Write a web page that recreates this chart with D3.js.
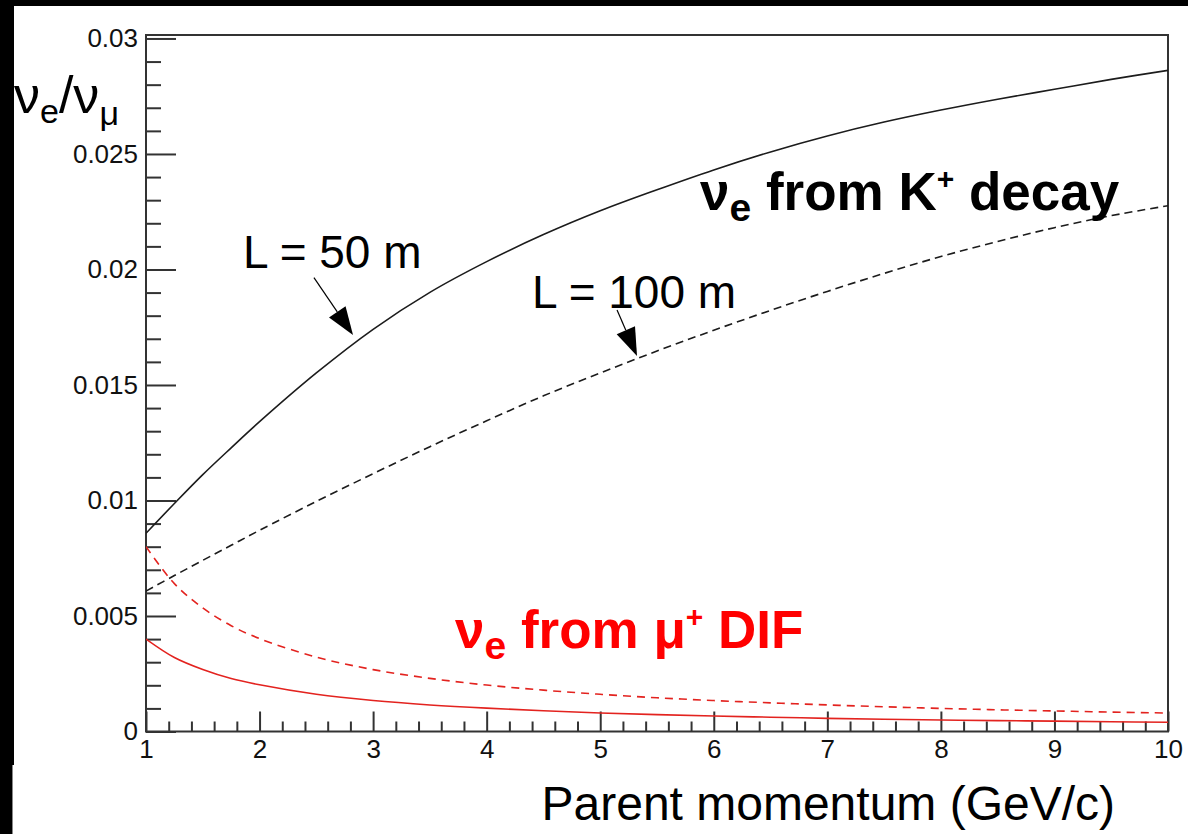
<!DOCTYPE html>
<html>
<head>
<meta charset="utf-8">
<script src="https://cdn.jsdelivr.net/npm/d3@7"></script>
<style>
  body { margin: 0; background: #fff; }
  svg { display: block; font-family: "Liberation Sans", Arial, Helvetica, sans-serif; }
</style>
</head>
<body>
<svg id="chart"></svg>
<script>
// parent momentum (GeV/c)
const momentum = [1, 1.25, 1.5, 1.75, 2, 2.5, 3, 3.5, 4, 4.5, 5, 5.5, 6, 6.5, 7, 7.5, 8, 8.5, 9, 9.5, 10];
// nu_e / nu_mu from K+ decay
const kaonL50  = [0.00858, 0.00987, 0.01112, 0.01228, 0.01341, 0.01552, 0.01741, 0.01901, 0.02034, 0.02151, 0.02254,
                  0.02345, 0.02431, 0.02509, 0.02578, 0.02638, 0.02690, 0.02737, 0.02780, 0.02823, 0.02862];
const kaonL100 = [0.00608, 0.00675, 0.00741, 0.00806, 0.00871, 0.00996, 0.01116, 0.01233, 0.01345, 0.01453, 0.01552,
                  0.01647, 0.01737, 0.01823, 0.01905, 0.01983, 0.02056, 0.02121, 0.02181, 0.02233, 0.02276];
// nu_e / nu_mu from mu+ decay in flight
const muonL50  = [0.00400, 0.00320, 0.00268, 0.00229, 0.00202, 0.00161, 0.00134, 0.00115, 0.00101, 0.00090, 0.00080,
                  0.00073, 0.00067, 0.00062, 0.00057, 0.00053, 0.00050, 0.00047, 0.00045, 0.00042, 0.00040];
const muonL100 = [0.00800, 0.00640, 0.00535, 0.00458, 0.00402, 0.00322, 0.00268, 0.00230, 0.00201, 0.00179, 0.00161,
                  0.00146, 0.00134, 0.00124, 0.00115, 0.00107, 0.00100, 0.00094, 0.00089, 0.00084, 0.00080];

const xTicks = [1, 2, 3, 4, 5, 6, 7, 8, 9, 10];
const yTicks = [0, 0.005, 0.01, 0.015, 0.02, 0.025, 0.03];
const yTickLabels = ["0", "0.005", "0.01", "0.015", "0.02", "0.025", "0.03"];

const width = 1188, height = 834;
const plot = { left: 146, top: 35, right: 1168, bottom: 731.5 };

const svg = d3.select("#chart").attr("width", width).attr("height", height);

// scanned page edges
svg.append("rect").attr("width", width).attr("height", height).attr("fill", "#fff");
svg.append("rect").attr("x", 0).attr("y", 0).attr("width", width).attr("height", 6).attr("fill", "#000");
svg.append("rect").attr("x", 0).attr("y", 0).attr("width", 14).attr("height", 765).attr("fill", "#000");
svg.append("rect").attr("x", 0).attr("y", 765).attr("width", 12).attr("height", height - 765).attr("fill", "#000");
svg.append("rect").attr("x", 12).attr("y", 765).attr("width", 1).attr("height", height - 765).attr("fill", "#888");

const x = d3.scaleLinear().domain([1, 10]).range([plot.left, plot.right]);
const y = d3.scaleLinear().domain([0, 0.03015]).range([plot.bottom, plot.top]);

const xMinor = d3.range(1, 10.001, 0.2).filter(v => Math.abs(v - Math.round(v)) > 1e-6);
const yMinor = d3.range(0, 0.0301, 0.001).filter(v => Math.abs(v / 0.005 - Math.round(v / 0.005)) > 1e-6);

function styleAxis(g) {
  g.select(".domain").remove();
  g.selectAll("line").attr("stroke", "#333").attr("stroke-width", 2);
  g.selectAll("text").attr("fill", "#111").attr("font-size", 26).attr("font-family", null);
}

// y axis
svg.append("g").attr("transform", `translate(${plot.left},0)`)
  .call(d3.axisLeft(y).tickValues(yMinor).tickSize(-15).tickFormat(""))
  .call(styleAxis);
svg.append("g").attr("transform", `translate(${plot.left},0)`)
  .call(d3.axisLeft(y).tickValues(yTicks).tickSize(-30).tickPadding(8)
    .tickFormat((d, i) => yTickLabels[i]))
  .call(styleAxis);

// x axis
svg.append("g").attr("transform", `translate(0,${plot.bottom})`)
  .call(d3.axisBottom(x).tickValues(xMinor).tickSize(-10).tickFormat(""))
  .call(styleAxis);
svg.append("g").attr("transform", `translate(0,${plot.bottom})`)
  .call(d3.axisBottom(x).tickValues(xTicks).tickSize(-20).tickPadding(8).tickFormat(d3.format("d")))
  .call(styleAxis);

// frame
svg.append("rect")
  .attr("x", plot.left).attr("y", plot.top)
  .attr("width", plot.right - plot.left).attr("height", plot.bottom - plot.top)
  .attr("fill", "none").attr("stroke", "#333").attr("stroke-width", 2);

svg.append("clipPath").attr("id", "clip").append("rect")
  .attr("x", plot.left).attr("y", plot.top)
  .attr("width", plot.right - plot.left).attr("height", plot.bottom - plot.top);

const line = d3.line()
  .x(d => x(d[0]))
  .y(d => y(d[1]))
  .curve(d3.curveCatmullRom.alpha(0.5));

const series = [
  { values: kaonL50,  color: "#1c1c1c", dash: null },
  { values: kaonL100, color: "#1c1c1c", dash: "8,5" },
  { values: muonL50,  color: "#e3231f", dash: null },
  { values: muonL100, color: "#e3231f", dash: "8,6" }
];

svg.append("g").attr("clip-path", "url(#clip)")
  .selectAll("path")
  .data(series)
  .join("path")
  .attr("d", s => line(momentum.map((m, i) => [m, s.values[i]])))
  .attr("fill", "none")
  .attr("stroke", s => s.color)
  .attr("stroke-width", 1.6)
  .attr("stroke-dasharray", s => s.dash);

// distance labels with arrows (positions in data units)
const arrows = [
  { text: "L = 50 m",  at: [1.854, 0.02007], from: [2.479, 0.01965], to: [2.823, 0.01716] },
  { text: "L = 100 m", at: [4.399, 0.01833], from: [5.148, 0.01825], to: [5.324, 0.01626] }
];

arrows.forEach(a => {
  svg.append("text")
    .attr("x", x(a.at[0])).attr("y", y(a.at[1]))
    .attr("font-size", 46).attr("fill", "#000")
    .text(a.text);
  const x0 = x(a.from[0]), y0 = y(a.from[1]), x1 = x(a.to[0]), y1 = y(a.to[1]);
  const len = Math.hypot(x1 - x0, y1 - y0), ux = (x1 - x0) / len, uy = (y1 - y0) / len;
  const hl = 28, hw = 10;
  const bx = x1 - ux * hl, by = y1 - uy * hl;
  svg.append("line")
    .attr("x1", x0).attr("y1", y0).attr("x2", bx).attr("y2", by)
    .attr("stroke", "#000").attr("stroke-width", 1.2);
  svg.append("path")
    .attr("d", `M${x1},${y1}L${bx - uy * hw},${by + ux * hw}L${bx + uy * hw},${by - ux * hw}Z`)
    .attr("fill", "#000");
});

// source labels
const kLabel = svg.append("text")
  .attr("x", x(5.949) - 8).attr("y", y(0.02258))
  .attr("font-size", 53).attr("font-weight", "bold").attr("fill", "#000");
kLabel.append("tspan").text("ν");
kLabel.append("tspan").attr("font-size", 39).attr("dy", 11).text("e");
kLabel.append("tspan").attr("dy", -11).text(" from K");
kLabel.append("tspan").attr("font-size", 30).attr("dy", -21).text("+");
kLabel.append("tspan").attr("dy", 21).text(" decay");

const mLabel = svg.append("text")
  .attr("x", x(3.721)).attr("y", y(0.00361))
  .attr("font-size", 53).attr("font-weight", "bold").attr("fill", "#ff0000");
mLabel.append("tspan").text("ν");
mLabel.append("tspan").attr("font-size", 39).attr("dy", 11).text("e");
mLabel.append("tspan").attr("dy", -11).text(" from μ");
mLabel.append("tspan").attr("font-size", 30).attr("dy", -21).text("+");
mLabel.append("tspan").attr("dy", 21).text(" DIF");

// axis titles
const yTitle = svg.append("text")
  .attr("x", 14).attr("y", 113)
  .attr("font-size", 52).attr("fill", "#000");
yTitle.append("tspan").text("ν");
yTitle.append("tspan").attr("font-size", 34).attr("dy", 10).text("e");
yTitle.append("tspan").attr("dy", -10).text("/ν");
yTitle.append("tspan").attr("font-size", 34).attr("dy", 12).text("μ");

svg.append("text")
  .attr("x", 1115).attr("y", 820)
  .attr("text-anchor", "end")
  .attr("font-size", 48).attr("fill", "#000")
  .text("Parent momentum (GeV/c)");
</script>
</body>
</html>
